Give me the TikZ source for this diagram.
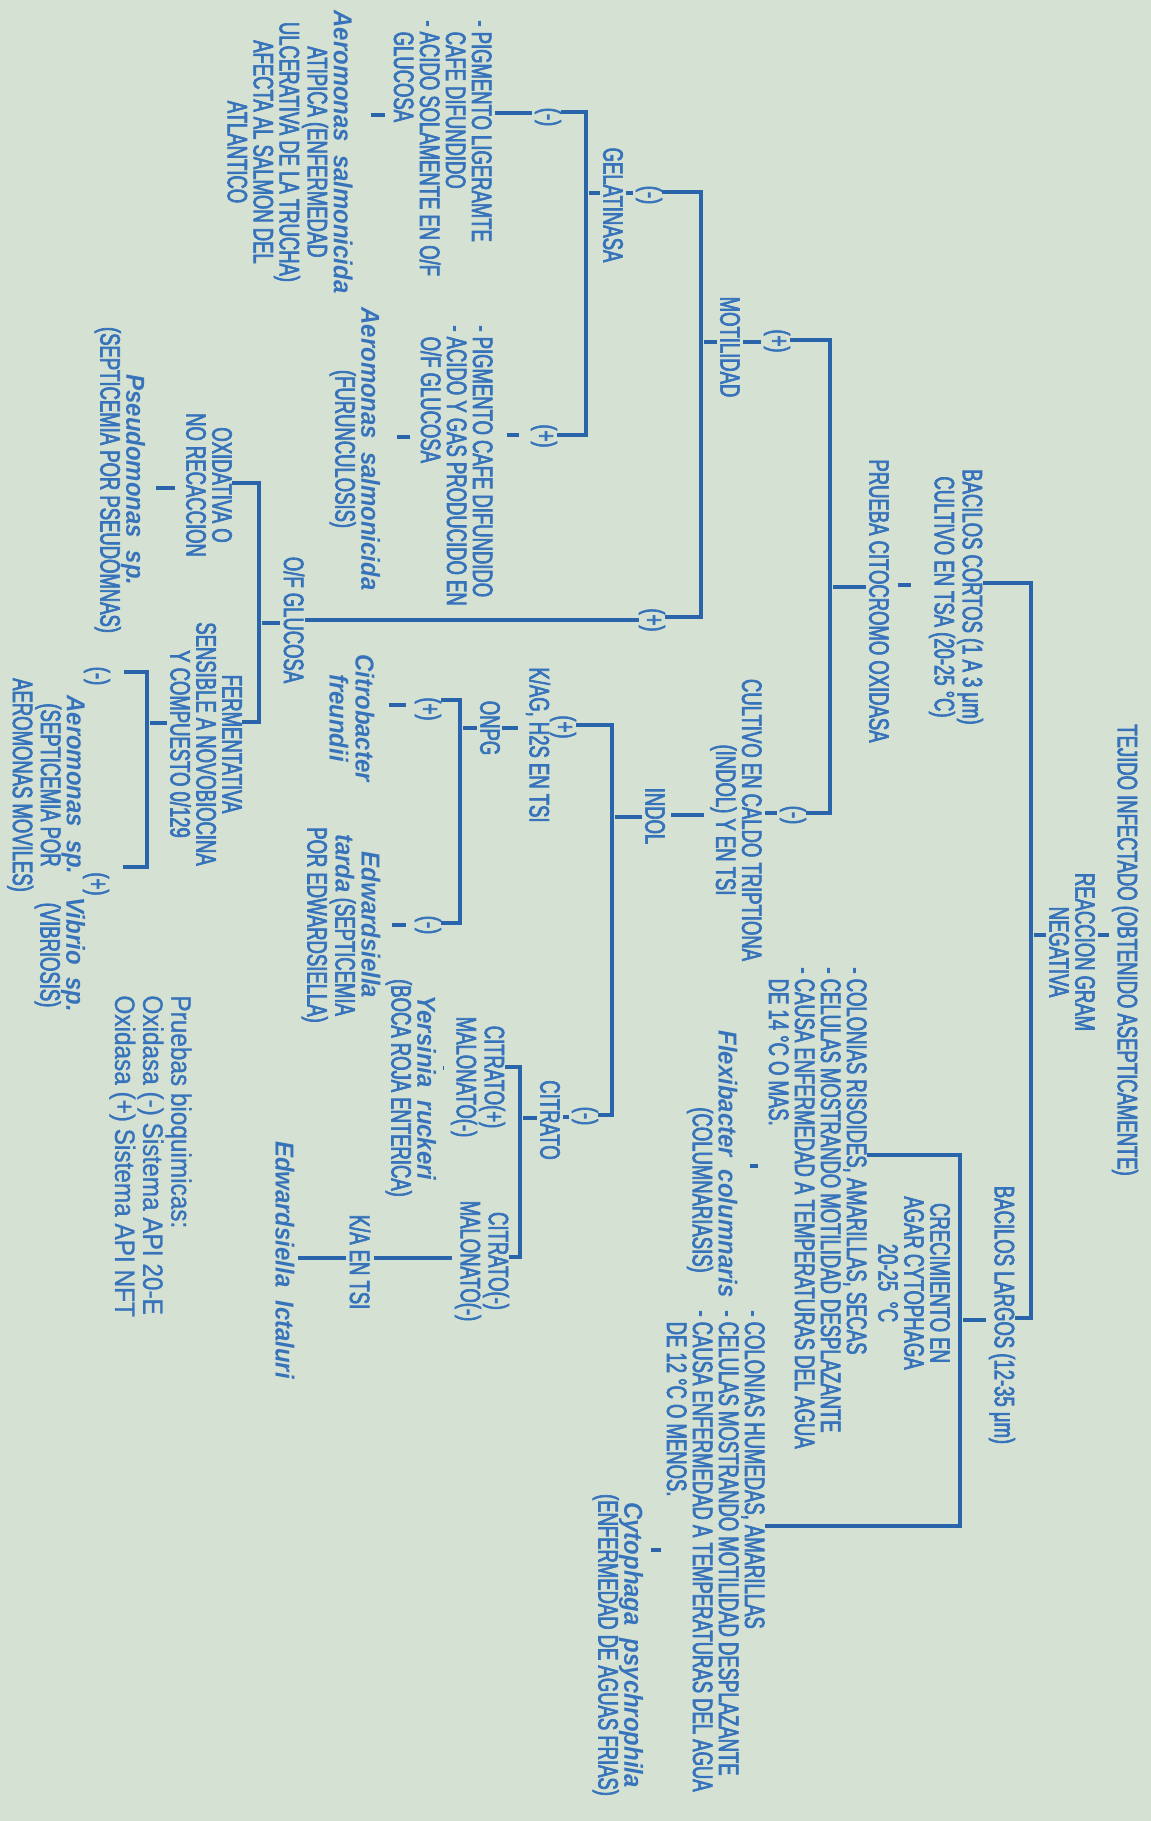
\documentclass[tikz,border=0pt]{standalone}
\usepackage{fontspec}
\setmainfont{Liberation Sans}
\newfontfamily\capfont{Liberation Sans}[FakeStretch=0.66,FakeBold=2.5]
\newfontfamily\specfont{Liberation Sans}[FakeStretch=0.92]
\newfontfamily\notefont{Liberation Sans}[FakeStretch=0.87,FakeBold=1]
\newcommand{\spec}[1]{{\specfont\fontsize{13}{13}\selectfont\bfseries\itshape #1}}
\definecolor{paper}{RGB}{213,226,211}
\definecolor{ink}{RGB}{55,115,186}
\definecolor{wire}{RGB}{42,100,170}

\begin{document}
\begin{tikzpicture}[x=0.5pt,y=-0.5pt]
  \tikzset{txt/.style={rotate=-90,inner sep=0pt,text=ink,align=center,font=\capfont\fontsize{14}{13}\selectfont},
           lst/.style={txt,align=left,anchor=north west},
           ln/.style={draw=wire,line width=1.8pt},
           tk/.style={ln,shorten <=1.5pt,shorten >=1.5pt}}
  \useasboundingbox (0,0) rectangle (1151,1821);
  \fill[paper] (0,0) rectangle (1151,1821);

  % tronco
  \node[txt] (tej) at (1125,950) {TEJIDO INFECTADO (OBTENIDO ASEPTICAMENTE)};
  \node[txt] (gram) at (1072,952) {REACCION GRAM\\NEGATIVA};
  \node[txt] (cortos) at (956,597) {BACILOS CORTOS (1 A 3 μm)\\CULTIVO EN TSA (20-25 °C)};
  \node[txt] (citox) at (879,601) {PRUEBA CITOCROMO OXIDASA};
  \node[txt] (largos) at (1002,1315) {BACILOS LARGOS (12-35 μm)};
  \node[txt] (crec) at (914,1283) {CRECIMIENTO EN\\AGAR CYTOPHAGA\\20-25 \ °C};

  % bacilos largos
  \node[lst] (risoid) at (867,967) {- COLONIAS RISOIDES, AMARILLAS, SECAS\\- CELULAS MOSTRANDO MOTILIDAD DESPLAZANTE\\- CAUSA ENFERMEDAD A TEMPERATURAS DEL AGUA\\\phantom{- }DE 14 °C O MAS.};
  \node[txt,anchor=east] (flexi) at (728,1298) {\spec{Flexibacter\enspace columnaris}};
  \node[txt] (colum) at (700,1190) {(COLUMNARIASIS)};
  \node[lst] (humed) at (765,1310) {- COLONIAS HUMEDAS, AMARILLAS\\- CELULAS MOSTRANDO MOTILIDAD DESPLAZANTE\\- CAUSA ENFERMEDAD A TEMPERATURAS DEL AGUA\\\phantom{- }DE 12 °C O MENOS.};
  \node[txt] (cyto) at (618,1645) {\spec{Cytophaga\enspace psychrophila}\\(ENFERMEDAD DE AGUAS FRIAS)};

  % oxidasa (+)
  \node[txt] (pmot) at (777,341) {(+)};
  \node[txt] (motil) at (730,347) {MOTILIDAD};
  \node[txt] (pgel) at (649,195) {(-)};
  \node[txt] (gelat) at (613,205) {GELATINASA};
  \node[txt] (neg1) at (548,117) {(-)};
  \node[lst] (pig1) at (492,20) {- PIGMENTO LIGERAMTE\\\phantom{- }CAFE DIFUNDIDO\\- ACIDO SOLAMENTE EN O/F\\\phantom{- }GLUCOSA};
  \node[txt] (asal1) at (290,152) {\spec{Aeromonas\enspace salmonicida}\\ATIPICA (ENFERMEDAD\\ULCERATIVA DE LA TRUCHA)\\AFECTA AL SALMON DEL\\ATLANTICO};
  \node[txt] (pos1) at (544,436) {(+)};
  \node[lst] (pig2) at (493,325) {- PIGMENTO CAFE DIFUNDIDO\\- ACIDO Y GAS PRODUCIDO EN\\\phantom{- }O/F GLUCOSA};
  \node[txt] (asal2) at (355,449) {\spec{Aeromonas\enspace salmonicida}\\(FURUNCULOSIS)};
  \node[txt] (pof) at (652,620) {(+)};
  \node[txt] (ofg) at (294,620) {O/F GLUCOSA};
  \node[txt] (oxid) at (209,485) {OXIDATIVA O\\NO RECACCION};
  \node[txt] (pseu) at (120,480) {\spec{Pseudomonas\enspace sp.}\\(SEPTICEMIA POR PSEUDOMNAS)};
  \node[txt] (ferm) at (206,744) {FERMENTATIVA\\SENSIBLE A NOVOBIOCINA\\Y COMPUESTO 0/129};
  \node[txt] (nneg) at (97,676) {(-)};
  \node[txt] (aersp) at (46,785) {\spec{Aeromonas\enspace sp.}\\(SEPTICEMIA POR\\AEROMONAS MOVILES)};
  \node[txt] (npos) at (96,884) {(+)};
  \node[txt] (vib) at (60,955) {\spec{Vibrio\enspace sp.}\\(VIBRIOSIS)};

  % oxidasa (-)
  \node[txt] (pcul) at (793,815) {(-)};
  \node[txt] (cultind) at (736,820) {CULTIVO EN CALDO TRIPTIONA\\(INDOL) Y EN TSI};
  \node[txt] (indol) at (655,816) {INDOL};
  \node[txt] (pkag) at (563,727) {(+)};
  \node[txt] (kag) at (538,745) {K/AG, H2S EN TSI};
  \node[txt] (onpg) at (490,728) {ONPG};
  \node[txt] (pcit) at (428,709) {(+)};
  \node[txt] (citro) at (352,718) {\spec{Citrobacter}\\\spec{freundii}};
  \node[txt] (nedw) at (428,925) {(-)};
  \node[txt] (edwt) at (341,925) {\spec{Edwardsiella}\\\spec{tarda} (SEPTICEMIA\\POR EDWARDSIELLA)};
  \node[txt] (ncit) at (585,1116) {(-)};
  \node[txt] (citr) at (550,1120) {CITRATO};
  \node[txt] (cpm) at (478,1077) {CITRATO(+)\\MALONATO(-)};
  \node[txt] (yers) at (411,1088) {\spec{Yersinia\enspace ruckeri}\\(BOCA ROJA ENTERICA)};
  \node[txt] (cmm) at (482,1261) {CITRATO(-)\\MALONATO(-)};
  \node[txt] (ka) at (360,1262) {K/A EN TSI};
  \node[txt] (edwi) at (285,1260) {\spec{Edwardsiella\enspace Ictaluri}};
  \node[lst,font=\notefont\fontsize{14}{13}\selectfont] (prueb) at (192,995) {Pruebas bioquimicas:\\Oxidasa (-) Sistema API 20-E\\Oxidasa (+) Sistema API NFT};

  \coordinate (s1t) at (1031,583);
  \coordinate (s1b) at (1031,1318);
  \coordinate (cvt) at (830,340);
  \coordinate (cvb) at (830,813);
  \coordinate (mvt) at (701,192);
  \coordinate (mvb) at (701,617);
  \coordinate (gvt) at (586,112);
  \coordinate (gvb) at (586,435);
  \coordinate (fvt) at (259,483);
  \coordinate (fvb) at (259,722);
  \coordinate (nvt) at (147,672);
  \coordinate (nvb) at (147,867);
  \coordinate (ivt) at (612,725);
  \coordinate (ivb) at (612,1115);
  \coordinate (ovt) at (460,700);
  \coordinate (ovb) at (460,923);
  \coordinate (tvt) at (520,1067);
  \coordinate (tvb) at (520,1257);
  \coordinate (lvt) at (960,1155);
  \coordinate (lvb) at (960,1526);

  \draw[tk] (tej.south |- 0,935) -- (gram.north |- 0,935);
  \draw[tk] (gram.south |- 0,935) -- (s1t |- 0,935);
  \draw[ln] (cortos.north |- s1t) -- (s1t) -- (s1b) -- (largos.north |- s1b);
  \draw[tk,shorten <=9pt,shorten >=4.5pt] (cortos.south |- 0,585) -- (citox.north |- 0,585);
  \draw[tk] (citox.south |- 0,587) -- (cvt |- 0,587);
  \draw[ln] (pmot.north |- cvt) -- (cvt) -- (cvb) -- (pcul.north |- cvb);
  \draw[tk] (pmot.south |- 0,342) -- (motil.north |- 0,342);
  \draw[tk] (motil.south |- 0,342) -- (mvt |- 0,342);
  \draw[ln] (pgel.north |- mvt) -- (mvt) -- (mvb) -- (pof.north |- mvb);
  \draw[tk] (pgel.south |- 0,193) -- (gelat.north |- 0,193);
  \draw[tk] (gelat.south |- 0,193) -- (gvt |- 0,193);
  \draw[ln] (neg1.north |- gvt) -- (gvt) -- (gvb) -- (pos1.north |- gvb);
  \draw[tk] (neg1.south |- 0,113) -- (pig1.north |- 0,113);
  \draw[tk,shorten <=4pt,shorten >=9pt] (pig1.south |- 0,115) -- (asal1.north |- 0,115);
  \draw[tk,shorten <=6pt,shorten >=7pt] (pos1.south |- 0,435) -- (pig2.north |- 0,435);
  \draw[tk,shorten <=5pt,shorten >=8pt] (pig2.south |- 0,437) -- (asal2.north |- 0,437);
  \draw[ln] (pof.south |- 0,620) -- (ofg.north |- 0,620);
  \draw[tk] (ofg.south |- 0,623) -- (fvt |- 0,623);
  \draw[ln] (oxid.north |- fvt) -- (fvt) -- (fvb) -- (ferm.north |- fvb);
  \draw[tk,shorten <=5.5pt,shorten >=5pt] (oxid.south |- 0,488) -- (pseu.north |- 0,488);
  \draw[tk] (ferm.south |- 0,723) -- (nvt |- 0,723);
  \draw[ln,shorten <=7pt,shorten >=7pt] (nneg.north |- nvt) -- (nvt) -- (nvb) -- (npos.north |- nvb);
  \draw[tk] (pcul.south |- 0,813) -- (cultind.north |- 0,813);
  \draw[tk,shorten <=3pt,shorten >=3pt] (cultind.south |- 0,815) -- (indol.north |- 0,815);
  \draw[tk] (indol.south |- 0,817) -- (ivt |- 0,817);
  \draw[ln] (pkag.north |- ivt) -- (ivt) -- (ivb) -- (ncit.north |- ivb);
  \draw[tk,shorten <=4pt,shorten >=1pt] (kag.south |- 0,728) -- (onpg.north |- 0,728);
  \draw[tk] (onpg.south |- 0,728) -- (ovt |- 0,728);
  \draw[ln] (pcit.north |- ovt) -- (ovt) -- (ovb) -- (nedw.north |- ovb);
  \draw[tk,shorten <=4.5pt,shorten >=7pt] (pcit.south |- 0,705) -- (citro.north |- 0,705);
  \draw[tk,shorten <=4.5pt,shorten >=5.5pt] (nedw.south |- 0,925) -- (edwt.north |- 0,925);
  \draw[tk] (ncit.south |- 0,1117) -- (citr.north |- 0,1117);
  \draw[tk] (citr.south |- 0,1118) -- (tvt |- 0,1118);
  \draw[ln] (cpm.north |- tvt) -- (tvt) -- (tvb) -- (cmm.north |- tvb);
  \draw[tk,shorten <=3.5pt,shorten >=3pt] (cpm.south |- 0,1068) -- (yers.north |- 0,1068);
  \draw[tk] (cmm.south |- 0,1258) -- (ka.north |- 0,1258);
  \draw[tk] (ka.south |- 0,1258) -- (edwi.north |- 0,1258);
  \draw[tk] (largos.south |- 0,1320) -- (lvt |- 0,1320);
  \draw[ln] (risoid.north |- lvt) -- (lvt) -- (lvb) -- (humed.north |- lvb);
  \draw[tk,shorten <=5pt,shorten >=6pt] (risoid.south |- 0,1166) -- (flexi.north |- 0,1166);
  \draw[tk,shorten <=2.5pt,shorten >=3.5pt] (humed.south |- 0,1550) -- (cyto.north |- 0,1550);
\end{tikzpicture}
\end{document}
